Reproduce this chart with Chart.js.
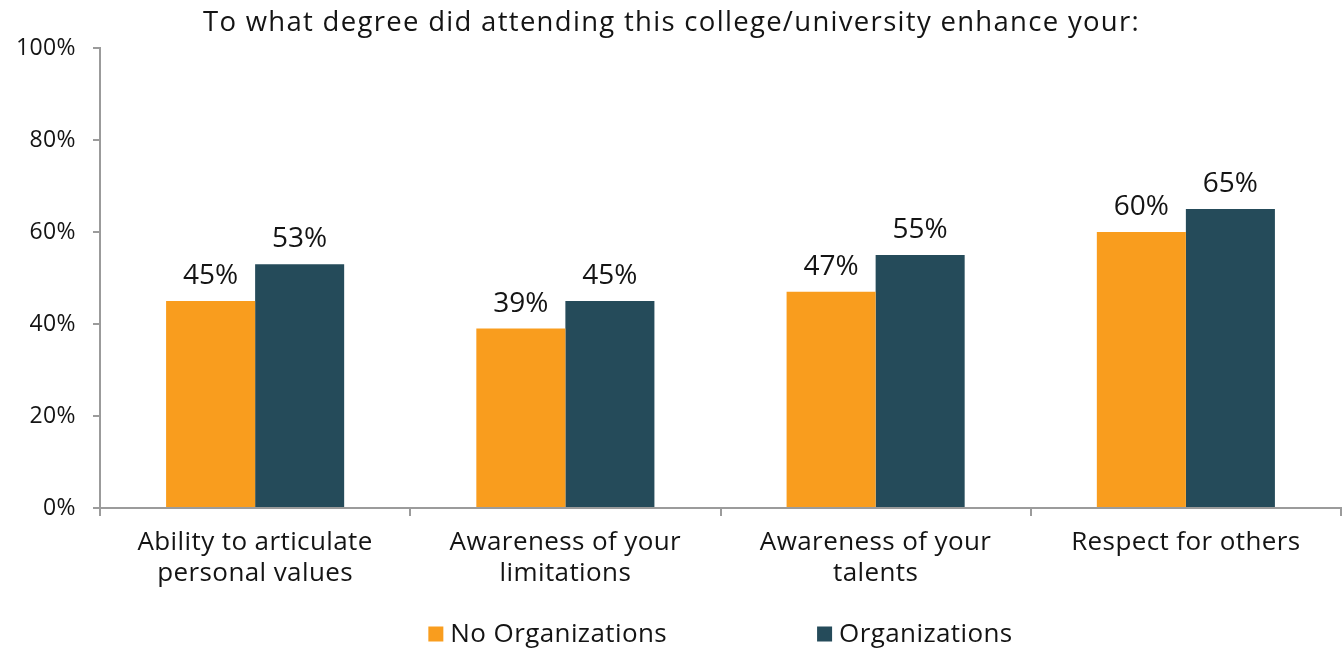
<!DOCTYPE html>
<html>
<head>
<meta charset="utf-8">
<script src="https://cdn.jsdelivr.net/npm/chart.js@4.4.0/dist/chart.umd.min.js"></script>
<style>
  html, body { margin: 0; padding: 0; background: #ffffff; }
  #wrap { width: 1343px; height: 650px; }
</style>
</head>
<body>
<div id="wrap"><canvas id="chart" width="1343" height="650"></canvas></div>
<script>
const titleText = 'To what degree did attending this college/university enhance your:';
const categories = [
  ['Ability to articulate', 'personal values'],
  ['Awareness of your', 'limitations'],
  ['Awareness of your', 'talents'],
  ['Respect for others']
];
const noOrganizations = [45, 39, 47, 60];
const organizations = [53, 45, 55, 65];
const yTicks = [0, 20, 40, 60, 80, 100];

const FONT = '"Open Sans", Lato, sans-serif';
const AXIS_GREY = '#9b9b9b';
const TEXT = '#141414';

// Slightly open tracking for the axis text Chart.js draws
const tracking = {
  id: 'tracking',
  beforeDraw(chart) { chart.ctx.letterSpacing = '0.4px'; },
  afterDraw(chart) { chart.ctx.letterSpacing = '0px'; }
};

// Title centred across the canvas
const topTitle = {
  id: 'topTitle',
  afterDraw(chart) {
    const ctx = chart.ctx;
    ctx.save();
    ctx.letterSpacing = '1.3px';
    ctx.font = '27.5px ' + FONT;
    ctx.fillStyle = TEXT;
    ctx.textAlign = 'center';
    ctx.textBaseline = 'middle';
    ctx.fillText(titleText, chart.width / 2, 23);
    ctx.restore();
  }
};

// Percent labels above each bar
const barValueLabels = {
  id: 'barValueLabels',
  afterDatasetsDraw(chart) {
    const ctx = chart.ctx;
    ctx.save();
    ctx.letterSpacing = '0px';
    ctx.font = '28px ' + FONT;
    ctx.fillStyle = TEXT;
    ctx.textAlign = 'center';
    ctx.textBaseline = 'alphabetic';
    chart.data.datasets.forEach((ds, di) => {
      chart.getDatasetMeta(di).data.forEach((bar, i) => {
        ctx.fillText(ds.data[i] + '%', bar.x, bar.y - 17);
      });
    });
    ctx.restore();
  }
};

// Legend row under the axis, centred on the plot area
const bottomLegend = {
  id: 'bottomLegend',
  afterDraw(chart) {
    const ctx = chart.ctx;
    const box = 15, gapText = 7, gapItem = 150;
    const cy = 634;
    ctx.save();
    ctx.letterSpacing = '0.4px';
    ctx.font = '26px ' + FONT;
    ctx.textBaseline = 'middle';
    ctx.textAlign = 'left';
    const items = chart.data.datasets.map(ds => ({
      label: ds.label, color: ds.backgroundColor,
      w: box + gapText + ctx.measureText(ds.label).width
    }));
    const total = items.reduce((s, it) => s + it.w, 0) + gapItem * (items.length - 1);
    const area = chart.chartArea;
    let x = (area.left + area.right) / 2 - total / 2;
    items.forEach(it => {
      ctx.fillStyle = it.color;
      ctx.fillRect(x, cy - box / 2, box, box);
      ctx.fillStyle = TEXT;
      ctx.fillText(it.label, x + box + gapText, cy + 1);
      x += it.w + gapItem;
    });
    ctx.restore();
  }
};

new Chart(document.getElementById('chart'), {
  type: 'bar',
  data: {
    labels: categories,
    datasets: [
      { label: 'No Organizations', data: noOrganizations, backgroundColor: '#F99D1E' },
      { label: 'Organizations', data: organizations, backgroundColor: '#254B5A' }
    ]
  },
  options: {
    responsive: false,
    animation: false,
    layout: { padding: { left: 0, right: 2, top: 48, bottom: 50 } },
    datasets: { bar: { categoryPercentage: 0.574, barPercentage: 1.0 } },
    plugins: {
      legend: { display: false },
      tooltip: { enabled: false },
      title: { display: false }
    },
    scales: {
      x: {
        offset: true,
        grid: { offset: true, drawOnChartArea: false, drawTicks: true, tickLength: 8, color: AXIS_GREY, lineWidth: 2 },
        border: { color: AXIS_GREY, width: 2 },
        ticks: { color: TEXT, font: { family: FONT, size: 26, lineHeight: 1.2 }, padding: 11, maxRotation: 0, autoSkip: false },
        afterFit(s) { s.height = 92; }
      },
      y: {
        min: 0, max: 100,
        afterBuildTicks(s) { s.ticks = yTicks.map(v => ({ value: v })); },
        grid: { drawOnChartArea: false, drawTicks: true, tickLength: 7, color: AXIS_GREY, lineWidth: 2 },
        border: { color: AXIS_GREY, width: 2 },
        ticks: { color: TEXT, font: { family: FONT, size: 23 }, padding: 17, callback: v => v + '%' },
        afterFit(s) { s.width = 100; }
      }
    }
  },
  plugins: [tracking, topTitle, barValueLabels, bottomLegend]
});
</script>
</body>
</html>
